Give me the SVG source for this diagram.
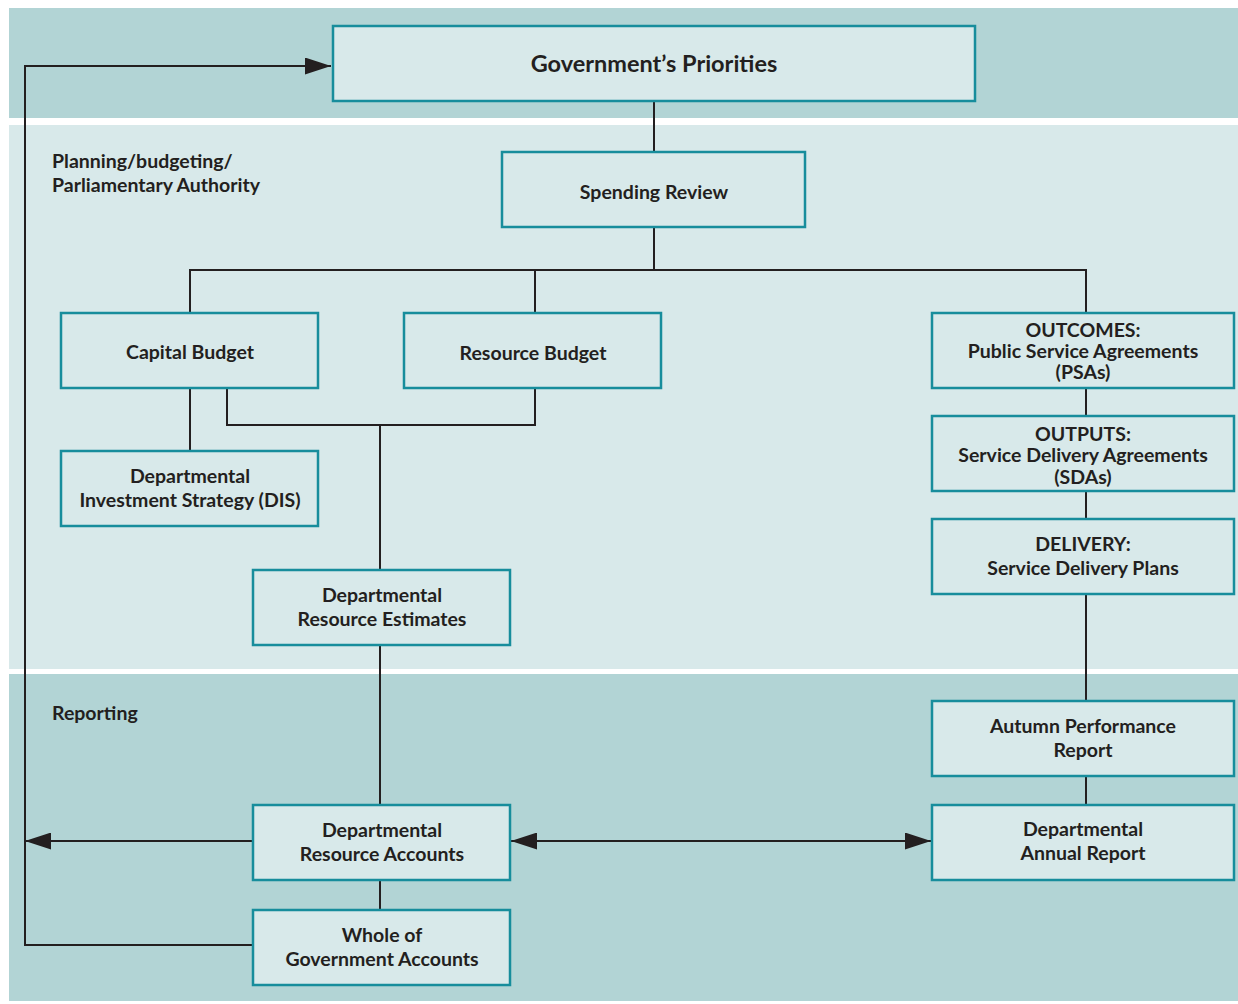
<svg xmlns="http://www.w3.org/2000/svg" width="1238" height="1004" viewBox="0 0 1238 1004">
<defs>
<style>
.band-dark{fill:#b2d4d5}
.band-light{fill:#d8e9ea}
.box{fill:#d8e9ea;stroke:#178d9c;stroke-width:2.5}
.t{font-family:Lato,"Open Sans","Liberation Sans",sans-serif;font-weight:bold;font-size:19.5px;fill:#231f20;text-anchor:middle}
.lbl{font-family:Lato,"Open Sans","Liberation Sans",sans-serif;font-weight:bold;font-size:19.5px;fill:#231f20}
.big{font-size:23.5px}
.c{fill:none;stroke:#231f20;stroke-width:2}
</style>
<marker id="ah" viewBox="0 0 26 17" refX="26" refY="8.5" markerWidth="26" markerHeight="17" markerUnits="userSpaceOnUse" orient="auto-start-reverse">
<path d="M0,0 L26,8.5 L0,17 Z" fill="#231f20"/>
</marker>
</defs>
<rect width="1238" height="1004" fill="#ffffff"/>
<rect class="band-dark" x="9" y="8" width="1229" height="110"/>
<rect class="band-light" x="9" y="125" width="1229" height="544"/>
<rect class="band-dark" x="9" y="674" width="1229" height="327"/>
<text class="lbl" x="52" y="168">Planning/budgeting/</text>
<text class="lbl" x="52" y="192">Parliamentary Authority</text>
<text class="lbl" x="52" y="720">Reporting</text>
<g id="connectors">
<path class="c" d="M654,101 V152"/>
<path class="c" d="M654,227 V270 M190,313 V270 H1086 V313 M535,270 V313"/>
<path class="c" d="M190,388 V451"/>
<path class="c" d="M227,388 V425 H535 V388 M380,425 V570"/>
<path class="c" d="M380,645 V805"/>
<path class="c" d="M380,880 V910"/>
<path class="c" d="M1086,388 V416 M1086,491 V519 M1086,594 V701 M1086,776 V805"/>
<path class="c" d="M511,841 H931" marker-start="url(#ah)" marker-end="url(#ah)"/>
<path class="c" d="M253,841 H25" marker-end="url(#ah)"/>
<path class="c" d="M253,945 H25 V66 H331" marker-end="url(#ah)"/>
</g>
<g id="gov"><rect class="box" x="333" y="26" width="642" height="75"/><text class="t big" x="654" y="72">Government’s Priorities</text></g>
<g id="spending"><rect class="box" x="502" y="152" width="303" height="75"/><text class="t" x="654" y="199">Spending Review</text></g>
<g id="capital"><rect class="box" x="61" y="313" width="257" height="75"/><text class="t" x="190" y="359">Capital Budget</text></g>
<g id="resource"><rect class="box" x="404" y="313" width="257" height="75"/><text class="t" x="533" y="360">Resource Budget</text></g>
<g id="outcomes"><rect class="box" x="932" y="313" width="302" height="75"/><text class="t" x="1083" y="337">OUTCOMES:</text><text class="t" x="1083" y="358">Public Service Agreements</text><text class="t" x="1083" y="379">(PSAs)</text></g>
<g id="outputs"><rect class="box" x="932" y="416" width="302" height="75"/><text class="t" x="1083" y="441">OUTPUTS:</text><text class="t" x="1083" y="462">Service Delivery Agreements</text><text class="t" x="1083" y="484">(SDAs)</text></g>
<g id="delivery"><rect class="box" x="932" y="519" width="302" height="75"/><text class="t" x="1083" y="551">DELIVERY:</text><text class="t" x="1083" y="575">Service Delivery Plans</text></g>
<g id="dis"><rect class="box" x="61" y="451" width="257" height="75"/><text class="t" x="190" y="483">Departmental</text><text class="t" x="190" y="507">Investment Strategy (DIS)</text></g>
<g id="dre"><rect class="box" x="253" y="570" width="257" height="75"/><text class="t" x="382" y="602">Departmental</text><text class="t" x="382" y="626">Resource Estimates</text></g>
<g id="autumn"><rect class="box" x="932" y="701" width="302" height="75"/><text class="t" x="1083" y="733">Autumn Performance</text><text class="t" x="1083" y="757">Report</text></g>
<g id="dra"><rect class="box" x="253" y="805" width="257" height="75"/><text class="t" x="382" y="837">Departmental</text><text class="t" x="382" y="861">Resource Accounts</text></g>
<g id="dar"><rect class="box" x="932" y="805" width="302" height="75"/><text class="t" x="1083" y="836">Departmental</text><text class="t" x="1083" y="860">Annual Report</text></g>
<g id="wga"><rect class="box" x="253" y="910" width="257" height="75"/><text class="t" x="382" y="942">Whole of</text><text class="t" x="382" y="966">Government Accounts</text></g>
</svg>
